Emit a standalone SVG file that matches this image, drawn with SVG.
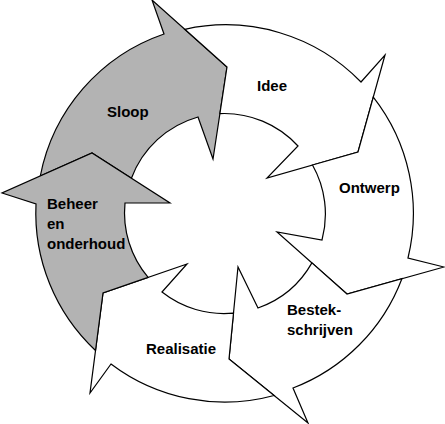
<svg xmlns="http://www.w3.org/2000/svg" width="445" height="424" viewBox="0 0 445 424">
  <style>
    .arrow { stroke: #000; stroke-width: 1.2; stroke-linejoin: miter; stroke-miterlimit: 10; }
    .white { fill: #ffffff; }
    .grey { fill: #b3b3b3; }
    .label { font-family: "Liberation Sans", Arial, sans-serif; font-weight: bold; font-size: 15px; fill: #000; }
  </style>
  <rect x="0" y="0" width="445" height="424" fill="#ffffff"/>
  <g id="node-sloop">
    <path class="arrow grey" d="M40.3,176 A188.5,188.5 0 0 1 164,34 L152,0 L227,67 L213,159 L198,117 A100,100 0 0 0 131.4,178.3 L92,153 Z"/>
    <text class="label" x="107" y="117">Sloop</text>
  </g>
  <g id="node-idee">
    <path class="arrow white" d="M184.8,29.3 A188.5,188.5 0 0 1 361,82 L385,55 L358,152 L267,178 L298,146 A100,100 0 0 0 219.9,113.6 L227,67 Z"/>
    <text class="label" x="257" y="91">Idee</text>
  </g>
  <g id="node-ontwerp">
    <path class="arrow white" d="M373.3,97.1 A188.5,188.5 0 0 1 408,258 L444,267 L347,294 L277,232 L322,240 A100,100 0 0 0 312.5,165 L358,152 Z"/>
    <text class="label" x="339" y="193">Ontwerp</text>
  </g>
  <g id="node-bestek">
    <path class="arrow white" d="M401.9,278.7 A188.5,188.5 0 0 1 293,388 L308,423 L229,359 L238,267 L258,308 A100,100 0 0 0 311.9,262.9 L347,294 Z"/>
    <text class="label" x="287" y="315">Bestek-</text>
    <text class="label" x="287" y="335">schrijven</text>
  </g>
  <g id="node-realisatie">
    <path class="arrow white" d="M274.1,395.5 A188.5,188.5 0 0 1 111,364 L90,393 L103,293 L187,264 L162,292 A100,100 0 0 0 233.5,313.1 L229,359 Z"/>
    <text class="label" x="146" y="354">Realisatie</text>
  </g>
  <g id="node-beheer">
    <path class="arrow grey" d="M95.5,350.5 A188.5,188.5 0 0 1 36,204 L2,193 L92,153 L170,203 L125,203 A100,100 0 0 0 148.1,277.4 L103,293 Z"/>
    <text class="label" x="47" y="209">Beheer</text>
    <text class="label" x="47" y="229">en</text>
    <text class="label" x="47" y="249">onderhoud</text>
  </g>
</svg>
